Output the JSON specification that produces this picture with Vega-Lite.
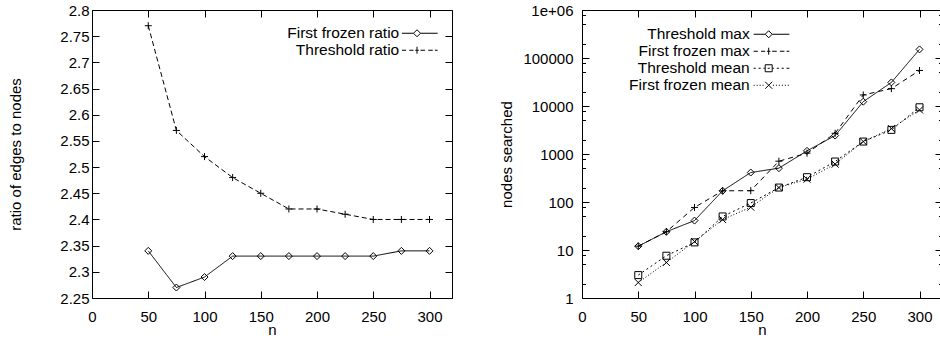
{
  "$schema": "https://vega.github.io/schema/vega-lite/v6.json",
  "background": "white",
  "padding": {"left": 8, "top": 2, "right": 0, "bottom": 0},
  "spacing": 45,
  "config": {
    "font": "Liberation Sans",
    "view": {"stroke": "black", "strokeWidth": 1},
    "axis": {
      "grid": false, "domain": false, "tickColor": "black", "tickWidth": 1,
      "labelColor": "black", "titleColor": "black",
      "labelFont": "Liberation Sans", "titleFont": "Liberation Sans",
      "labelFontSize": 15, "titleFontSize": 15, "titleFontWeight": "normal",
      "tickSize": -7, "labelFlush": false, "labelOverlap": false
    },
    "legend": {
      "padding": 0,
      "labelFont": "Liberation Sans", "labelFontSize": 15.5, "labelColor": "black",
      "symbolSize": 49, "symbolStrokeColor": "black", "symbolStrokeWidth": 1,
      "rowPadding": 0
    }
  },
  "resolve": {"scale": {"shape": "independent", "strokeDash": "independent"}, "legend": {"shape": "independent"}},
  "datasets": {
    "ratio": [
      {"n": 50, "series": "First frozen ratio", "value": 2.34},
      {"n": 75, "series": "First frozen ratio", "value": 2.27},
      {"n": 100, "series": "First frozen ratio", "value": 2.29},
      {"n": 125, "series": "First frozen ratio", "value": 2.33},
      {"n": 150, "series": "First frozen ratio", "value": 2.33},
      {"n": 175, "series": "First frozen ratio", "value": 2.33},
      {"n": 200, "series": "First frozen ratio", "value": 2.33},
      {"n": 225, "series": "First frozen ratio", "value": 2.33},
      {"n": 250, "series": "First frozen ratio", "value": 2.33},
      {"n": 275, "series": "First frozen ratio", "value": 2.34},
      {"n": 300, "series": "First frozen ratio", "value": 2.34},
      {"n": 50, "series": "Threshold ratio", "value": 2.77},
      {"n": 75, "series": "Threshold ratio", "value": 2.57},
      {"n": 100, "series": "Threshold ratio", "value": 2.52},
      {"n": 125, "series": "Threshold ratio", "value": 2.48},
      {"n": 150, "series": "Threshold ratio", "value": 2.45},
      {"n": 175, "series": "Threshold ratio", "value": 2.42},
      {"n": 200, "series": "Threshold ratio", "value": 2.42},
      {"n": 225, "series": "Threshold ratio", "value": 2.41},
      {"n": 250, "series": "Threshold ratio", "value": 2.40},
      {"n": 275, "series": "Threshold ratio", "value": 2.40},
      {"n": 300, "series": "Threshold ratio", "value": 2.40}
    ],
    "nodes": [
      {"n": 50, "series": "Threshold max", "value": 12},
      {"n": 75, "series": "Threshold max", "value": 24},
      {"n": 100, "series": "Threshold max", "value": 41},
      {"n": 125, "series": "Threshold max", "value": 171},
      {"n": 150, "series": "Threshold max", "value": 411},
      {"n": 175, "series": "Threshold max", "value": 507},
      {"n": 200, "series": "Threshold max", "value": 1162},
      {"n": 225, "series": "Threshold max", "value": 2422},
      {"n": 250, "series": "Threshold max", "value": 12300},
      {"n": 275, "series": "Threshold max", "value": 31000},
      {"n": 300, "series": "Threshold max", "value": 151000},
      {"n": 50, "series": "First frozen max", "value": 12},
      {"n": 75, "series": "First frozen max", "value": 24},
      {"n": 100, "series": "First frozen max", "value": 77},
      {"n": 125, "series": "First frozen max", "value": 171},
      {"n": 150, "series": "First frozen max", "value": 172},
      {"n": 175, "series": "First frozen max", "value": 708},
      {"n": 200, "series": "First frozen max", "value": 1040},
      {"n": 225, "series": "First frozen max", "value": 2700},
      {"n": 250, "series": "First frozen max", "value": 17000},
      {"n": 275, "series": "First frozen max", "value": 23000},
      {"n": 300, "series": "First frozen max", "value": 55000},
      {"n": 50, "series": "Threshold mean", "value": 3},
      {"n": 75, "series": "Threshold mean", "value": 7.6},
      {"n": 100, "series": "Threshold mean", "value": 14.4},
      {"n": 125, "series": "Threshold mean", "value": 50},
      {"n": 150, "series": "Threshold mean", "value": 95},
      {"n": 175, "series": "Threshold mean", "value": 200},
      {"n": 200, "series": "Threshold mean", "value": 329},
      {"n": 225, "series": "Threshold mean", "value": 697},
      {"n": 250, "series": "Threshold mean", "value": 1817},
      {"n": 275, "series": "Threshold mean", "value": 3180},
      {"n": 300, "series": "Threshold mean", "value": 9400},
      {"n": 50, "series": "First frozen mean", "value": 2.1},
      {"n": 75, "series": "First frozen mean", "value": 5.5},
      {"n": 100, "series": "First frozen mean", "value": 15},
      {"n": 125, "series": "First frozen mean", "value": 43},
      {"n": 150, "series": "First frozen mean", "value": 78},
      {"n": 175, "series": "First frozen mean", "value": 200},
      {"n": 200, "series": "First frozen mean", "value": 299},
      {"n": 225, "series": "First frozen mean", "value": 614},
      {"n": 250, "series": "First frozen mean", "value": 1817},
      {"n": 275, "series": "First frozen mean", "value": 3390},
      {"n": 300, "series": "First frozen mean", "value": 8280}
    ]
  },
  "hconcat": [
    {
      "width": 360, "height": 288,
      "data": {"name": "ratio"},
      "resolve": {"axis": {"x": "independent", "y": "independent"}, "scale": {"shape": "independent"}},
      "layer": [
        {
          "mark": {"type": "line", "color": "black", "strokeWidth": 1},
          "encoding": {
            "x": {"field": "n", "type": "quantitative",
              "scale": {"domain": [0, 320], "nice": false, "zero": false},
              "axis": {"orient": "bottom", "values": [0, 50, 100, 150, 200, 250, 300], "title": "n",
                "titleY": 36.5, "titleX": 180, "titleBaseline": "alphabetic", "titleAlign": "center",
                "labelPadding": 18, "labelBaseline": "top"}},
            "y": {"field": "value", "type": "quantitative",
              "scale": {"domain": [2.25, 2.8], "nice": false, "zero": false},
              "axis": {"orient": "left", "values": [2.25, 2.3, 2.35, 2.4, 2.45, 2.5, 2.55, 2.6, 2.65, 2.7, 2.75, 2.8],
                "format": "~g", "title": "ratio of edges to nodes",
                "titleX": -71.5, "titleY": 144, "titleAngle": -90, "titleBaseline": "alphabetic", "titleAlign": "center",
                "labelPadding": 10}},
            "strokeDash": {"field": "series", "type": "nominal",
              "scale": {"range": [[1, 0], [5, 3]]},
              "legend": null}
          }
        },
        {
          "mark": {"type": "point", "filled": false, "color": "black", "strokeWidth": 1, "size": 49, "opacity": 1},
          "encoding": {
            "x": {"field": "n", "type": "quantitative",
              "scale": {"domain": [0, 320], "nice": false, "zero": false},
              "axis": {"orient": "top", "values": [0, 50, 100, 150, 200, 250, 300], "labels": false, "title": null}},
            "y": {"field": "value", "type": "quantitative",
              "scale": {"domain": [2.25, 2.8], "nice": false, "zero": false},
              "axis": {"orient": "right", "values": [2.25, 2.3, 2.35, 2.4, 2.45, 2.5, 2.55, 2.6, 2.65, 2.7, 2.75, 2.8], "labels": false, "title": null}},
            "shape": {"field": "series", "type": "nominal",
              "scale": {"domain": ["First frozen ratio", "Threshold ratio"],
                "range": ["M0,-1L1,0L0,1L-1,0Z", "M-1,0L1,0M0,-1L0,1"]},
              "legend": null}
          }
        },
        {
          "transform": [{"filter": "false"}],
          "mark": {"type": "point", "filled": false, "color": "black", "strokeWidth": 1, "size": 49, "opacity": 1},
          "encoding": {
            "x": {"field": "n", "type": "quantitative", "scale": {"domain": [0, 320], "nice": false, "zero": false}, "axis": null},
            "y": {"field": "value", "type": "quantitative", "scale": {"domain": [2.25, 2.8], "nice": false, "zero": false}, "axis": null},
            "shape": {"field": "series", "type": "nominal",
              "scale": {"domain": ["First frozen ratio", "Threshold ratio"],
                "range": [
                  "M-4.3,0L-1,0M1,0L5.9,0M0,-1L1,0L0,1L-1,0Z",
                  "M-4.3,0L-3.1,0M-2.2,0L-1,0M-0.5,0L0.5,0M1,0L2.3,0M3.2,0L4.5,0M5.1,0L5.9,0M0,-1L0,1"
                ]},
              "legend": {"orient": "none", "title": null, "legendX": 317.25, "legendY": 15.5,
                "labelAlign": "right", "labelOffset": -25.5}}
          }
        }
      ]
    },
    {
      "width": 360, "height": 288,
      "data": {"name": "nodes"},
      "resolve": {"axis": {"x": "independent", "y": "independent"}, "scale": {"shape": "independent"}},
      "layer": [
        {
          "mark": {"type": "line", "color": "black", "strokeWidth": 1},
          "encoding": {
            "x": {"field": "n", "type": "quantitative",
              "scale": {"domain": [0, 320], "nice": false, "zero": false},
              "axis": {"orient": "bottom", "values": [0, 50, 100, 150, 200, 250, 300], "title": "n",
                "titleY": 36.5, "titleX": 180, "titleBaseline": "alphabetic", "titleAlign": "center",
                "labelPadding": 18, "labelBaseline": "top"}},
            "y": {"field": "value", "type": "quantitative",
              "scale": {"type": "log", "domain": [1, 1000000], "nice": false},
              "axis": {"orient": "left",
                "values": [1, 2, 5, 8, 10, 20, 50, 80, 100, 200, 500, 800, 1000, 2000, 5000, 8000, 10000, 20000, 50000, 80000, 100000, 200000, 500000, 800000, 1000000],
                "labelExpr": "datum.value == 1000000 ? '1e+06' : (indexof([1, 10, 100, 1000, 10000, 100000], datum.value) >= 0 ? format(datum.value, 'd') : '')",
                "tickSize": {"condition": {"test": "indexof([1, 10, 100, 1000, 10000, 100000, 1000000], datum.value) >= 0", "value": -7}, "value": -3.5},
                "title": "nodes searched",
                "titleX": -71, "titleY": 144, "titleAngle": -90, "titleBaseline": "alphabetic", "titleAlign": "center",
                "labelPadding": 16}},
            "strokeDash": {"field": "series", "type": "nominal",
              "scale": {"range": [[5, 4], [1, 2], [1, 0], [2, 3]]},
              "legend": null}
          }
        },
        {
          "mark": {"type": "point", "filled": false, "color": "black", "strokeWidth": 1, "size": 49, "opacity": 1},
          "encoding": {
            "x": {"field": "n", "type": "quantitative",
              "scale": {"domain": [0, 320], "nice": false, "zero": false},
              "axis": {"orient": "top", "values": [0, 50, 100, 150, 200, 250, 300], "labels": false, "title": null}},
            "y": {"field": "value", "type": "quantitative",
              "scale": {"type": "log", "domain": [1, 1000000], "nice": false},
              "axis": {"orient": "right",
                "values": [1, 2, 5, 8, 10, 20, 50, 80, 100, 200, 500, 800, 1000, 2000, 5000, 8000, 10000, 20000, 50000, 80000, 100000, 200000, 500000, 800000, 1000000],
                "labels": false, "title": null,
                "tickSize": {"condition": {"test": "indexof([1, 10, 100, 1000, 10000, 100000, 1000000], datum.value) >= 0", "value": -7}, "value": -3.5}}},
            "shape": {"field": "series", "type": "nominal",
              "scale": {"domain": ["Threshold max", "First frozen max", "Threshold mean", "First frozen mean"],
                "range": ["M0,-1L1,0L0,1L-1,0Z", "M-1,0L1,0M0,-1L0,1", "M-1,-1L1,-1L1,1L-1,1Z", "M-1,-1L1,1M-1,1L1,-1"]},
              "legend": null}
          }
        },
        {
          "transform": [{"filter": "false"}],
          "mark": {"type": "point", "filled": false, "color": "black", "strokeWidth": 1, "size": 49, "opacity": 1},
          "encoding": {
            "x": {"field": "n", "type": "quantitative", "scale": {"domain": [0, 320], "nice": false, "zero": false}, "axis": null},
            "y": {"field": "value", "type": "quantitative", "scale": {"type": "log", "domain": [1, 1000000], "nice": false}, "axis": null},
            "shape": {"field": "series", "type": "nominal",
              "scale": {"domain": ["Threshold max", "First frozen max", "Threshold mean", "First frozen mean"],
                "range": [
                  "M-4.3,0L-1,0M1,0L5.9,0M0,-1L1,0L0,1L-1,0Z",
                  "M-4.3,0L-3.1,0M-2.2,0L-1,0M-0.5,0L0.5,0M1,0L2.3,0M3.2,0L4.5,0M5.1,0L5.9,0M0,-1L0,1",
                  "M-4.3,0L-3.7,0M-2.9,0L-2.3,0M-1.5,0L-1.1,0M1.1,0L1.5,0M2.3,0L2.9,0M3.7,0L4.3,0M5.1,0L5.9,0M-0.3,0L0.3,0M-1,-1L1,-1L1,1L-1,1Z",
                  "M-4.3,0L-4,0M-3.45,0L-3.15,0M-2.6,0L-2.3,0M-1.75,0L-1.45,0M1.2,0L1.5,0M2.05,0L2.35,0M2.9,0L3.2,0M3.75,0L4.05,0M4.6,0L4.9,0M5.45,0L5.75,0M-1,-1L1,1M-1,1L1,-1"
                ]},
              "legend": {"orient": "none", "title": null, "legendX": 178.95, "legendY": 16.5,
                "labelAlign": "right", "labelOffset": -26.75}}
          }
        }
      ]
    }
  ]
}
